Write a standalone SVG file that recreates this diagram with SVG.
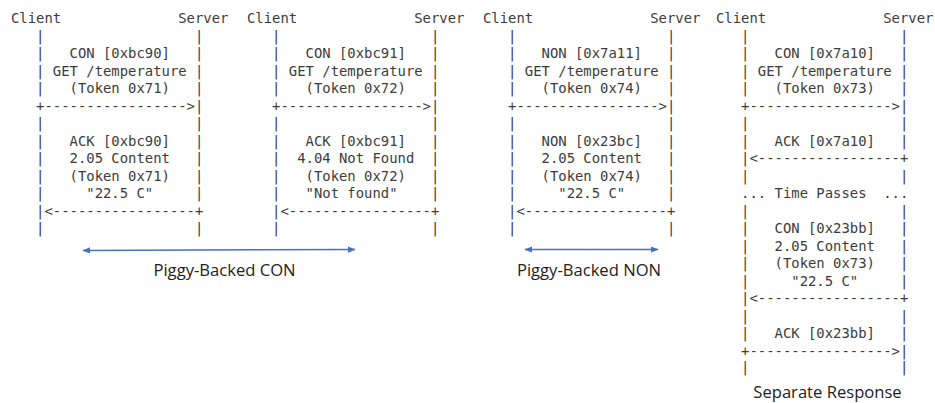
<svg xmlns="http://www.w3.org/2000/svg" width="935" height="403" viewBox="0 0 935 403">
<style>
  .m { font-family: "DejaVu Sans Mono", "Liberation Mono", monospace; font-size: 13.9px; fill: #3c3c3c; }
  .lbl { font-family: "Open Sans", "Noto Sans", "Liberation Sans", sans-serif; font-size: 16.6px; fill: #222; text-anchor: middle; }
  .conn { stroke: #4472C4; stroke-width: 1.5; fill: none; marker-start: url(#ah); marker-end: url(#ah); }
</style>
<defs>
  <marker id="ah" viewBox="0 0 10 10" refX="9" refY="5" markerWidth="8" markerHeight="8" markerUnits="userSpaceOnUse" orient="auto-start-reverse">
    <path d="M0,1 L10,5 L0,9 Z" fill="#4472C4"/>
  </marker>
</defs>
<rect width="935" height="403" fill="#fff"/>

<g id="piggy-backed-con-1" class="m">
  <text x="11" y="23">Client&#160;&#160;&#160;&#160;&#160;&#160;&#160;&#160;&#160;&#160;&#160;&#160;&#160;&#160;Server</text>
  <text x="11" y="40.5">&#160;&#160;&#160;|&#160;&#160;&#160;&#160;&#160;&#160;&#160;&#160;&#160;&#160;&#160;&#160;&#160;&#160;&#160;&#160;&#160;&#160;|</text>
  <text x="11" y="58">&#160;&#160;&#160;|&#160;&#160;&#160;CON&#160;[0xbc90]&#160;&#160;&#160;|</text>
  <text x="11" y="75.5">&#160;&#160;&#160;|&#160;GET&#160;/temperature&#160;|</text>
  <text x="11" y="93">&#160;&#160;&#160;|&#160;&#160;&#160;(Token&#160;0x71)&#160;&#160;&#160;|</text>
  <text x="11" y="110.5">&#160;&#160;&#160;+-----------------&gt;|</text>
  <text x="11" y="128">&#160;&#160;&#160;|&#160;&#160;&#160;&#160;&#160;&#160;&#160;&#160;&#160;&#160;&#160;&#160;&#160;&#160;&#160;&#160;&#160;&#160;|</text>
  <text x="11" y="145.5">&#160;&#160;&#160;|&#160;&#160;&#160;ACK&#160;[0xbc90]&#160;&#160;&#160;|</text>
  <text x="11" y="163">&#160;&#160;&#160;|&#160;&#160;&#160;2.05&#160;Content&#160;&#160;&#160;|</text>
  <text x="11" y="180.5">&#160;&#160;&#160;|&#160;&#160;&#160;(Token&#160;0x71)&#160;&#160;&#160;|</text>
  <text x="11" y="198">&#160;&#160;&#160;|&#160;&#160;&#160;&#160;&#160;"22.5&#160;C"&#160;&#160;&#160;&#160;&#160;|</text>
  <text x="11" y="215.5">&#160;&#160;&#160;|&lt;-----------------+</text>
  <text x="11" y="233">&#160;&#160;&#160;|&#160;&#160;&#160;&#160;&#160;&#160;&#160;&#160;&#160;&#160;&#160;&#160;&#160;&#160;&#160;&#160;&#160;&#160;|</text>
</g>

<g id="piggy-backed-con-2" class="m">
  <text x="247" y="23">Client&#160;&#160;&#160;&#160;&#160;&#160;&#160;&#160;&#160;&#160;&#160;&#160;&#160;&#160;Server</text>
  <text x="247" y="40.5">&#160;&#160;&#160;|&#160;&#160;&#160;&#160;&#160;&#160;&#160;&#160;&#160;&#160;&#160;&#160;&#160;&#160;&#160;&#160;&#160;&#160;|</text>
  <text x="247" y="58">&#160;&#160;&#160;|&#160;&#160;&#160;CON&#160;[0xbc91]&#160;&#160;&#160;|</text>
  <text x="247" y="75.5">&#160;&#160;&#160;|&#160;GET&#160;/temperature&#160;|</text>
  <text x="247" y="93">&#160;&#160;&#160;|&#160;&#160;&#160;(Token&#160;0x72)&#160;&#160;&#160;|</text>
  <text x="247" y="110.5">&#160;&#160;&#160;+-----------------&gt;|</text>
  <text x="247" y="128">&#160;&#160;&#160;|&#160;&#160;&#160;&#160;&#160;&#160;&#160;&#160;&#160;&#160;&#160;&#160;&#160;&#160;&#160;&#160;&#160;&#160;|</text>
  <text x="247" y="145.5">&#160;&#160;&#160;|&#160;&#160;&#160;ACK&#160;[0xbc91]&#160;&#160;&#160;|</text>
  <text x="247" y="163">&#160;&#160;&#160;|&#160;&#160;4.04&#160;Not&#160;Found&#160;&#160;|</text>
  <text x="247" y="180.5">&#160;&#160;&#160;|&#160;&#160;&#160;(Token&#160;0x72)&#160;&#160;&#160;|</text>
  <text x="247" y="198">&#160;&#160;&#160;|&#160;&#160;&#160;"Not&#160;found"&#160;&#160;&#160;&#160;|</text>
  <text x="247" y="215.5">&#160;&#160;&#160;|&lt;-----------------+</text>
  <text x="247" y="233">&#160;&#160;&#160;|&#160;&#160;&#160;&#160;&#160;&#160;&#160;&#160;&#160;&#160;&#160;&#160;&#160;&#160;&#160;&#160;&#160;&#160;|</text>
</g>

<g id="piggy-backed-non" class="m">
  <text x="483" y="23">Client&#160;&#160;&#160;&#160;&#160;&#160;&#160;&#160;&#160;&#160;&#160;&#160;&#160;&#160;Server</text>
  <text x="483" y="40.5">&#160;&#160;&#160;|&#160;&#160;&#160;&#160;&#160;&#160;&#160;&#160;&#160;&#160;&#160;&#160;&#160;&#160;&#160;&#160;&#160;&#160;|</text>
  <text x="483" y="58">&#160;&#160;&#160;|&#160;&#160;&#160;NON&#160;[0x7a11]&#160;&#160;&#160;|</text>
  <text x="483" y="75.5">&#160;&#160;&#160;|&#160;GET&#160;/temperature&#160;|</text>
  <text x="483" y="93">&#160;&#160;&#160;|&#160;&#160;&#160;(Token&#160;0x74)&#160;&#160;&#160;|</text>
  <text x="483" y="110.5">&#160;&#160;&#160;+-----------------&gt;|</text>
  <text x="483" y="128">&#160;&#160;&#160;|&#160;&#160;&#160;&#160;&#160;&#160;&#160;&#160;&#160;&#160;&#160;&#160;&#160;&#160;&#160;&#160;&#160;&#160;|</text>
  <text x="483" y="145.5">&#160;&#160;&#160;|&#160;&#160;&#160;NON&#160;[0x23bc]&#160;&#160;&#160;|</text>
  <text x="483" y="163">&#160;&#160;&#160;|&#160;&#160;&#160;2.05&#160;Content&#160;&#160;&#160;|</text>
  <text x="483" y="180.5">&#160;&#160;&#160;|&#160;&#160;&#160;(Token&#160;0x74)&#160;&#160;&#160;|</text>
  <text x="483" y="198">&#160;&#160;&#160;|&#160;&#160;&#160;&#160;&#160;"22.5&#160;C"&#160;&#160;&#160;&#160;&#160;|</text>
  <text x="483" y="215.5">&#160;&#160;&#160;|&lt;-----------------+</text>
  <text x="483" y="233">&#160;&#160;&#160;|&#160;&#160;&#160;&#160;&#160;&#160;&#160;&#160;&#160;&#160;&#160;&#160;&#160;&#160;&#160;&#160;&#160;&#160;|</text>
</g>

<g id="separate-response" class="m">
  <text x="716" y="23">Client&#160;&#160;&#160;&#160;&#160;&#160;&#160;&#160;&#160;&#160;&#160;&#160;&#160;&#160;Server</text>
  <text x="716" y="40.5">&#160;&#160;&#160;|&#160;&#160;&#160;&#160;&#160;&#160;&#160;&#160;&#160;&#160;&#160;&#160;&#160;&#160;&#160;&#160;&#160;&#160;|</text>
  <text x="716" y="58">&#160;&#160;&#160;|&#160;&#160;&#160;CON&#160;[0x7a10]&#160;&#160;&#160;|</text>
  <text x="716" y="75.5">&#160;&#160;&#160;|&#160;GET&#160;/temperature&#160;|</text>
  <text x="716" y="93">&#160;&#160;&#160;|&#160;&#160;&#160;(Token&#160;0x73)&#160;&#160;&#160;|</text>
  <text x="716" y="110.5">&#160;&#160;&#160;+-----------------&gt;|</text>
  <text x="716" y="128">&#160;&#160;&#160;|&#160;&#160;&#160;&#160;&#160;&#160;&#160;&#160;&#160;&#160;&#160;&#160;&#160;&#160;&#160;&#160;&#160;&#160;|</text>
  <text x="716" y="145.5">&#160;&#160;&#160;|&#160;&#160;&#160;ACK&#160;[0x7a10]&#160;&#160;&#160;|</text>
  <text x="716" y="163">&#160;&#160;&#160;|&lt;-----------------+</text>
  <text x="716" y="180.5">&#160;&#160;&#160;|&#160;&#160;&#160;&#160;&#160;&#160;&#160;&#160;&#160;&#160;&#160;&#160;&#160;&#160;&#160;&#160;&#160;&#160;|</text>
  <text x="716" y="198">&#160;&#160;&#160;...&#160;Time&#160;Passes&#160;&#160;...</text>
  <text x="716" y="215.5">&#160;&#160;&#160;|&#160;&#160;&#160;&#160;&#160;&#160;&#160;&#160;&#160;&#160;&#160;&#160;&#160;&#160;&#160;&#160;&#160;&#160;|</text>
  <text x="716" y="233">&#160;&#160;&#160;|&#160;&#160;&#160;CON&#160;[0x23bb]&#160;&#160;&#160;|</text>
  <text x="716" y="250.5">&#160;&#160;&#160;|&#160;&#160;&#160;2.05&#160;Content&#160;&#160;&#160;|</text>
  <text x="716" y="268">&#160;&#160;&#160;|&#160;&#160;&#160;(Token&#160;0x73)&#160;&#160;&#160;|</text>
  <text x="716" y="285.5">&#160;&#160;&#160;|&#160;&#160;&#160;&#160;&#160;"22.5&#160;C"&#160;&#160;&#160;&#160;&#160;|</text>
  <text x="716" y="303">&#160;&#160;&#160;|&lt;-----------------+</text>
  <text x="716" y="320.5">&#160;&#160;&#160;|&#160;&#160;&#160;&#160;&#160;&#160;&#160;&#160;&#160;&#160;&#160;&#160;&#160;&#160;&#160;&#160;&#160;&#160;|</text>
  <text x="716" y="338">&#160;&#160;&#160;|&#160;&#160;&#160;ACK&#160;[0x23bb]&#160;&#160;&#160;|</text>
  <text x="716" y="355.5">&#160;&#160;&#160;+-----------------&gt;|</text>
  <text x="716" y="372">&#160;&#160;&#160;|&#160;&#160;&#160;&#160;&#160;&#160;&#160;&#160;&#160;&#160;&#160;&#160;&#160;&#160;&#160;&#160;&#160;&#160;|</text>
</g>

<g id="connectors">
  <line class="conn" x1="83" y1="250.5" x2="355" y2="249.5"/>
  <line class="conn" x1="525" y1="249.5" x2="658" y2="249.5"/>
</g>

<g id="labels">
  <text class="lbl" x="224.5" y="276">Piggy-Backed CON</text>
  <text class="lbl" x="589" y="276">Piggy-Backed NON</text>
  <text class="lbl" x="827.5" y="398">Separate Response</text>
</g>
</svg>
